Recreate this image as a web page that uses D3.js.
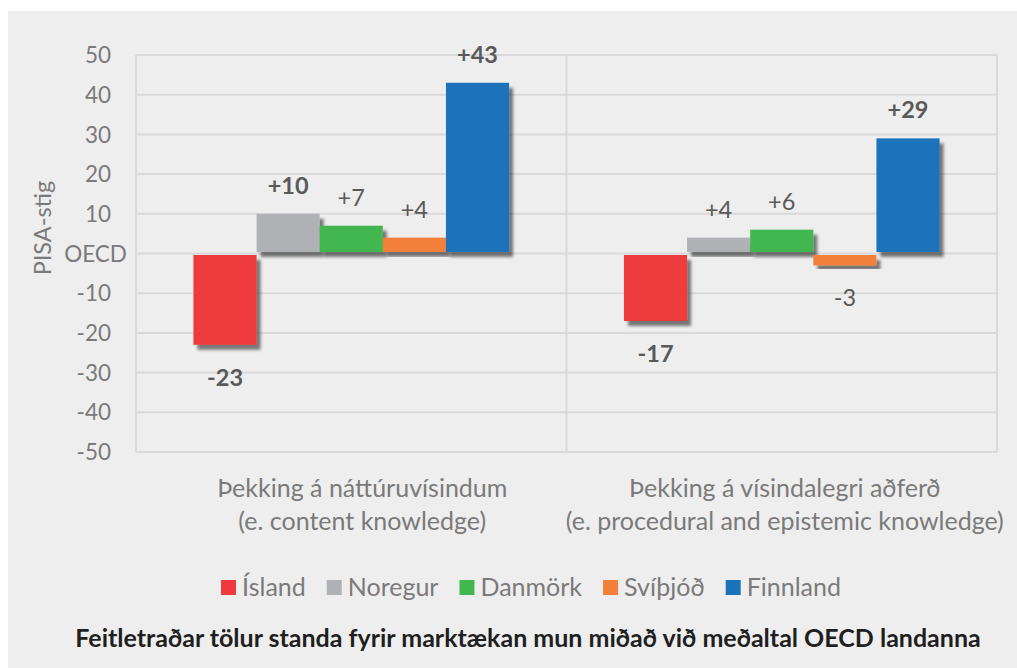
<!DOCTYPE html>
<html>
<head>
<meta charset="utf-8">
<script src="https://cdn.jsdelivr.net/npm/d3@7"></script>
<style>
  body { margin: 0; background: #fff; }
  text { font-family: Lato, "Noto Sans", sans-serif; }
</style>
</head>
<body>
<div id="chart"></div>
<script>
// Data
var categoryLine1 = ["Þekking á náttúruvísindum", "Þekking á vísindalegri aðferð"];
var categoryLine2 = ["(e. content knowledge)", "(e. procedural and epistemic knowledge)"];
var countries = ["Ísland", "Noregur", "Danmörk", "Svíþjóð", "Finnland"];
var colors = ["#ee3a3c", "#b0b1b5", "#43b74f", "#f2803a", "#1a73ba"];
var values = [
    [-23, 10, 7, 4, 43],
    [-17, 4, 6, -3, 29]
];
// bold = statistically significant
var significant = [
    [true, true, false, false, true],
    [true, false, false, false, true]
];
var yTicks = [-50, -40, -30, -20, -10, 0, 10, 20, 30, 40, 50];
var yTitle = "PISA-stig";
var footnote = "Feitletraðar tölur standa fyrir marktækan mun miðað við meðaltal OECD landanna";

var width = 1017, height = 668;
var plot = {left: 136, right: 997, top: 55, bottom: 452};

var svg = d3.select("#chart").append("svg")
    .attr("width", width)
    .attr("height", height);

var defs = svg.append("defs");
var filt = defs.append("filter").attr("id", "shadow")
    .attr("x", "-20%").attr("y", "-20%").attr("width", "150%").attr("height", "150%");
filt.append("feDropShadow")
    .attr("dx", 4).attr("dy", 5)
    .attr("stdDeviation", 1.8)
    .attr("flood-color", "#000")
    .attr("flood-opacity", 0.5);

// panel
svg.append("rect")
    .attr("x", 8).attr("y", 11)
    .attr("width", width - 8).attr("height", height - 11)
    .attr("fill", "#eeeeee");

var y = d3.scaleLinear().domain([-50, 50]).range([plot.bottom, plot.top]);
var x0 = d3.scaleBand().domain(d3.range(categoryLine1.length))
    .range([plot.left, plot.right]).paddingInner(0).paddingOuter(0);
var x1 = d3.scaleBand().domain(d3.range(countries.length))
    .range([0, x0.bandwidth()]).paddingInner(0).paddingOuter(0.91);

// gridlines
svg.append("g").selectAll("line")
    .data(yTicks)
    .enter().append("line")
    .attr("x1", plot.left).attr("x2", plot.right)
    .attr("y1", d => y(d)).attr("y2", d => y(d))
    .attr("stroke", "#d9d9d9").attr("stroke-width", 2);

// vertical separators
var seps = [plot.left].concat(x0.domain().map(i => x0(i) + x0.bandwidth()));
svg.append("g").selectAll("line")
    .data(seps)
    .enter().append("line")
    .attr("x1", d => d).attr("x2", d => d)
    .attr("y1", plot.top).attr("y2", plot.bottom)
    .attr("stroke", "#d9d9d9").attr("stroke-width", 2);

// y tick labels (OECD sits a bit further right, like the original)
svg.append("g").selectAll("text")
    .data(yTicks)
    .enter().append("text")
    .attr("x", d => d == 0 ? 127 : 111)
    .attr("y", d => y(d))
    .attr("dy", "0.36em")
    .attr("text-anchor", "end")
    .attr("fill", "#7a7a7a")
    .style("font-size", "22.5px")
    .text(d => d == 0 ? "OECD" : d);

svg.append("text")
    .attr("transform", "translate(51,228) rotate(-90)")
    .attr("text-anchor", "middle")
    .attr("fill", "#7a7a7a")
    .style("font-size", "23.5px")
    .text(yTitle);

// bars
var groups = svg.append("g").selectAll("g")
    .data(values)
    .enter().append("g")
    .attr("transform", (d, i) => "translate(" + x0(i) + ",0)");

groups.selectAll("rect")
    .data(d => d)
    .enter().append("rect")
    .attr("x", (d, i) => x1(i))
    .attr("width", x1.bandwidth())
    .attr("y", d => d >= 0 ? y(d) : y(0) + 1.5)
    .attr("height", d => Math.abs(y(d) - y(0)) - 1.5)
    .attr("fill", (d, i) => colors[i])
    .attr("filter", "url(#shadow)");

// value labels
groups.each(function(vals, gi) {
    d3.select(this).selectAll("text.val")
        .data(vals)
        .enter().append("text")
        .attr("class", "val")
        .attr("x", (d, i) => x1(i) + x1.bandwidth() / 2)
        .attr("y", d => d >= 0 ? y(d) - 20 : y(d) + 41)
        .attr("text-anchor", "middle")
        .attr("fill", "#595959")
        .style("font-size", "23.5px")
        .style("font-weight", (d, i) => significant[gi][i] ? "bold" : "normal")
        .text(d => (d > 0 ? "+" : "") + d);
});

// category labels
var catX = (d, i) => x0(i) + x0.bandwidth() / 2 + (i == 0 ? 11 : 3);
var cat = svg.append("g").selectAll("text")
    .data(categoryLine1)
    .enter().append("text")
    .attr("x", catX)
    .attr("text-anchor", "middle")
    .attr("fill", "#7a7a7a")
    .style("font-size", "25px");
cat.append("tspan").attr("y", 497).text(d => d);
cat.append("tspan").attr("y", 530)
    .attr("x", catX)
    .text((d, i) => categoryLine2[i]);

// legend
var legend = svg.append("g");
var lx = 0;
countries.forEach(function(c, i) {
    var item = legend.append("g").attr("transform", "translate(" + lx + ",0)");
    item.append("rect")
        .attr("x", 0).attr("y", -7)
        .attr("width", 15).attr("height", 15)
        .attr("fill", colors[i]);
    var t = item.append("text")
        .attr("x", 21).attr("dy", "0.36em")
        .attr("fill", "#7a7a7a")
        .style("font-size", "25px")
        .text(c);
    lx += 21 + t.node().getComputedTextLength() + 21;
});
lx -= 21;
legend.attr("transform", "translate(" + (531 - lx / 2) + ",587)");

svg.append("text")
    .attr("x", 528).attr("y", 647)
    .attr("text-anchor", "middle")
    .attr("fill", "#1f1f1f")
    .style("font-size", "25px")
    .style("font-weight", "bold")
    .text(footnote);
</script>
</body>
</html>
